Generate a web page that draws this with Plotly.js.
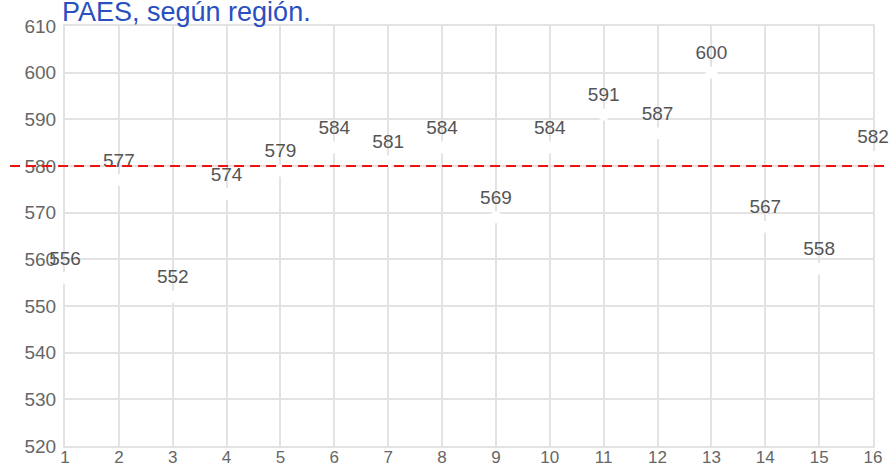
<!DOCTYPE html>
<html>
<head>
<meta charset="utf-8">
<script src="https://cdn.plot.ly/plotly-3.0.1.min.js"></script>
<style>html,body{margin:0;padding:0;background:#fff;}#chart{width:890px;height:468px;}</style>
</head>
<body>
<div id="chart"></div>
<script>
const regions = [1,2,3,4,5,6,7,8,9,10,11,12,13,14,15,16];
const scores = [556,577,552,574,579,584,581,584,569,584,591,587,600,567,558,582];
const referenceValue = 580;
const titleText = "PAES, según región.";

const trace = {
  x: regions,
  y: scores,
  type: 'scatter',
  mode: 'markers+text',
  text: scores.map(String),
  textposition: 'top center',
  textfont: {family: 'Liberation Sans, Arial, sans-serif', size: 19, color: '#555555'},
  marker: {color: '#ffffff', size: 12, line: {width: 0}},
  cliponaxis: false,
  hoverinfo: 'x+y'
};

const layout = {
  width: 890, height: 468,
  margin: {l: 65, r: 17, t: 26, b: 22},
  paper_bgcolor: '#ffffff', plot_bgcolor: '#ffffff',
  showlegend: false,
  font: {family: 'Liberation Sans, Arial, sans-serif', size: 19, color: '#666666'},
  title: {
    text: titleText,
    font: {family: 'Liberation Sans, Arial, sans-serif', size: 27, color: '#2a4fbf'},
    xref: 'container', x: 62/890, xanchor: 'left',
    yref: 'container', y: 1 - 12/468, yanchor: 'middle'
  },
  xaxis: {
    range: [1, 16], tickvals: regions, ticktext: regions.map(String),
    showgrid: true, gridcolor: '#e3e3e3', gridwidth: 2,
    showline: true, mirror: true, linecolor: '#e3e3e3', linewidth: 2,
    layer: 'below traces',
    zeroline: false, ticks: '', ticklen: 0, ticklabelstandoff: -5,
    tickfont: {size: 17, color: '#666666'}
  },
  yaxis: {
    range: [520, 610], dtick: 10, tick0: 520,
    showgrid: true, gridcolor: '#e3e3e3', gridwidth: 2,
    showline: true, mirror: true, linecolor: '#e3e3e3', linewidth: 2,
    layer: 'below traces',
    zeroline: false, ticks: '', ticklabelstandoff: 3,
    tickfont: {size: 19, color: '#666666'}
  },
  shapes: [{
    type: 'line', xref: 'paper', yref: 'y',
    x0: -0.068, x1: 1.03, y0: referenceValue, y1: referenceValue,
    line: {color: '#ee1111', width: 2, dash: '10px,6px'},
    layer: 'above'
  }]
};

Plotly.newPlot('chart', [trace], layout, {displayModeBar: false, staticPlot: true});
</script>
</body>
</html>
